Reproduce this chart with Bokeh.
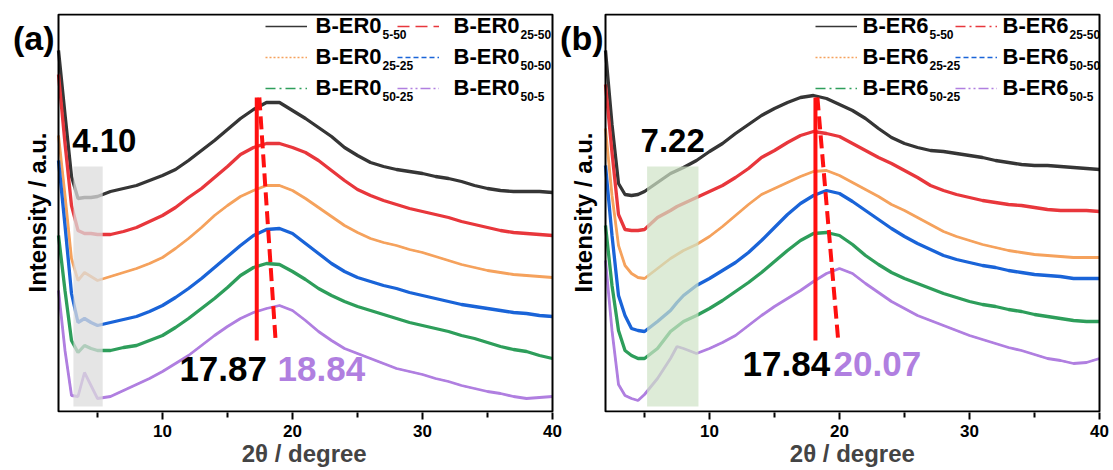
import math
from bokeh.plotting import figure
from bokeh.layouts import row
from bokeh.models import Range1d, FixedTicker, BoxAnnotation, Label, Legend, LegendItem
from bokeh.embed import file_html
from bokeh.resources import INLINE

# ---------------- data (2theta in degree, stacked intensity in a.u.) ----------------
theta_a = [2, 2.5, 3, 3.5, 4, 4.5, 5, 6, 7, 8, 9, 10, 11, 12, 13, 14, 15, 16, 17, 18, 19, 20,
           21, 22, 23, 24, 25, 26, 27, 28, 29, 30, 31, 32, 33, 34, 35, 36, 37, 38, 39, 40]
er0_5_50 = [361, 297, 235, 213, 214, 214, 215, 220, 223, 226, 231, 236, 242, 251, 261, 271, 282, 293, 302, 309, 309,
            301, 293, 284, 275, 264, 256, 249, 245, 242, 240, 238, 235, 233, 230, 226, 223, 221, 220, 220, 220, 219]
er0_25_50 = [337, 268, 206, 181, 178, 178, 177, 177, 180, 184, 190, 196, 204, 214, 223, 234, 245, 257, 264, 268, 268,
             264, 259, 251, 241, 231, 222, 216, 211, 207, 203, 200, 197, 194, 190, 187, 184, 181, 179, 178, 177, 176]
er0_25_25 = [276, 216, 153, 131, 139, 135, 131, 135, 139, 143, 148, 154, 163, 173, 184, 196, 206, 215, 221, 226, 226,
             221, 213, 204, 195, 186, 179, 173, 169, 166, 162, 159, 155, 151, 147, 144, 141, 139, 137, 136, 135, 134]
er0_50_50 = [251, 186, 118, 89, 93, 89, 86, 89, 92, 95, 100, 106, 114, 123, 133, 144, 155, 166, 176, 182, 183,
             178, 168, 158, 148, 140, 134, 130, 126, 123, 119, 116, 113, 110, 107, 105, 103, 101, 99, 98, 96, 95]
er0_50_25 = [176, 121, 71, 59, 66, 63, 61, 61, 64, 66, 71, 76, 84, 93, 103, 113, 124, 136, 144, 148, 147,
             140, 132, 123, 116, 110, 105, 101, 97, 93, 89, 86, 83, 80, 76, 73, 69, 65, 62, 60, 56, 53]
er0_50_5 = [121, 61, 16, 15, 39, 26, 13, 15, 21, 27, 33, 40, 48, 56, 66, 76, 85, 93, 99, 103, 106,
            101, 91, 80, 71, 63, 58, 53, 48, 43, 40, 37, 33, 30, 26, 23, 20, 18, 15, 13, 14, 15]

theta_b = [2, 2.5, 3, 3.5, 4, 4.5, 5, 6, 7, 7.5, 8, 9, 10, 11, 12, 13, 14, 15, 16, 17, 18, 19, 20,
           21, 22, 23, 24, 25, 26, 27, 28, 29, 30, 31, 32, 33, 34, 35, 36, 37, 38, 39, 40]
er6_5_50 = [361, 287, 228, 217, 216, 217, 220, 229, 238, 241, 244, 251, 260, 268, 278, 287, 296, 303, 309, 314, 316, 313, 307,
            301, 293, 283, 274, 268, 264, 261, 260, 258, 256, 254, 251, 249, 247, 246, 246, 245, 244, 243, 242]
er6_25_50 = [327, 259, 197, 182, 181, 181, 182, 194, 201, 205, 208, 214, 220, 226, 234, 243, 254, 261, 269, 276, 280, 278, 275,
             268, 261, 254, 248, 241, 234, 226, 221, 217, 214, 211, 209, 207, 206, 204, 202, 201, 201, 201, 200]
er6_25_25 = [283, 216, 166, 146, 138, 134, 133, 143, 153, 157, 161, 167, 175, 185, 196, 207, 217, 223, 229, 235, 240, 241, 236,
             229, 222, 215, 207, 201, 194, 187, 180, 175, 171, 167, 164, 161, 159, 157, 156, 155, 154, 154, 154]
er6_50_50 = [246, 176, 116, 96, 83, 81, 80, 90, 101, 109, 116, 126, 133, 141, 149, 159, 171, 184, 197, 208, 216, 221, 218,
             210, 201, 192, 183, 175, 168, 162, 156, 152, 149, 146, 144, 141, 139, 137, 136, 135, 133, 133, 133]
er6_50_25 = [186, 126, 81, 61, 56, 53, 53, 63, 80, 85, 90, 96, 103, 111, 120, 129, 139, 150, 161, 171, 178, 179, 176,
             167, 156, 147, 139, 133, 128, 123, 118, 114, 110, 107, 105, 102, 100, 97, 95, 93, 91, 90, 90]
er6_50_5 = [151, 81, 27, 16, 13, 11, 17, 33, 53, 65, 63, 58, 63, 69, 76, 86, 96, 105, 113, 121, 130, 138, 143,
            138, 128, 119, 110, 103, 96, 91, 86, 81, 76, 72, 68, 64, 61, 57, 53, 51, 48, 49, 53]

# legend names: base name and subscript
names_a = ["B-ER0"] * 6
names_b = ["B-ER6"] * 6
subs = ["5-50", "25-50", "25-25", "50-50", "50-25", "50-5"]

# shaded low-angle region and its label
region_a = [3.15, 5.4]
region_b = [5.2, 9.15]
region_label_a = "4.10"
region_label_b = "7.22"
region_label_x_a = 3.05
region_label_x_b = 4.7
# peak guide lines: solid (x), dashed (x top, x bottom)
guide_a = [17.25, 17.45, 18.7]
guide_b = [18.15, 18.3, 19.9]
guide_y = [314, 71]
peak_labels_a = ["17.87", "18.84"]
peak_labels_b = ["17.84", "20.07"]

colors = ["#363636", "#e8373c", "#f5a25d", "#1a64d8", "#2e9e5b", "#b07fe0"]
FONT = "Liberation Sans"
PX = 13.0  # pixels per degree
NBSP = "\u00a0"


def panel(theta, series, names, red_dash, region, region_color, region_alpha, region_label,
          region_label_x, guide, peak_labels, peak_pos, panel_label,
          width, border_right, left_px, frame_left, leg_x, text_x, fill_none, xlabel_pad):
    # frame spans the whole left margin so that side texts are inside the drawing area
    x0 = 2 - left_px / PX
    x1 = 40 + 2 / PX
    p = figure(width=width, height=470, output_backend="svg", toolbar_location=None,
               x_range=Range1d(x0, x1), y_range=Range1d(-1, 398),
               min_border_left=0, min_border_right=border_right,
               min_border_top=13, min_border_bottom=58)
    p.title.visible = False
    if fill_none:
        p.border_fill_color = None
    p.xgrid.visible = False
    p.ygrid.visible = False
    p.outline_line_color = None
    p.yaxis.visible = False

    xa = p.xaxis[0]
    xa.ticker = FixedTicker(ticks=[10, 20, 30, 40], minor_ticks=[5, 15, 25, 35])
    xa.axis_line_color = None
    xa.major_tick_line_width = 2
    xa.minor_tick_line_width = 2
    xa.major_tick_in = 0
    xa.major_tick_out = 7
    xa.minor_tick_in = 0
    xa.minor_tick_out = 5
    xa.major_label_text_font = FONT
    xa.major_label_text_font_style = "bold"
    xa.major_label_text_font_size = "17px"
    xa.major_label_text_color = "black"
    xa.major_label_standoff = 5
    # centred under the data area (the drawing area also covers the left margin)
    xa.axis_label = NBSP * xlabel_pad + "2\u03b8 / degree"
    xa.axis_label_text_font = FONT
    xa.axis_label_text_font_style = "bold"
    xa.axis_label_text_font_size = "24px"
    xa.axis_label_standoff = 0

    dashes = ["solid", red_dash, "2 2", "5 3", "10 4 2 4", "10 3 2 3 2 3"]
    widths = [3.3, 3.3, 2.8, 3.3, 3.3, 2.8]
    items = []
    for ys, col, dash, lw in zip(series, colors, dashes, widths):
        p.line(theta, ys, line_color=col, line_width=lw)
        r = p.line(theta, ys, line_color=col, line_width=1.6, line_dash=dash)
        items.append(LegendItem(label=" ", renderers=[r]))

    box = BoxAnnotation(left=region[0], right=region[1], bottom=5, top=245,
                        fill_color=region_color, fill_alpha=region_alpha, line_color=None)
    p.add_layout(box)
    p.add_layout(Label(x=region_label_x, y=271, text=region_label, text_font=FONT,
                       text_font_style="bold", text_font_size="33px", text_color="black",
                       text_baseline="middle"))

    p.segment(x0=[guide[0]], y0=[guide_y[0]], x1=[guide[0]], y1=[guide_y[1]],
              line_color="#ff1010", line_width=4)
    p.segment(x0=[guide[1]], y0=[guide_y[0]], x1=[guide[2]], y1=[guide_y[1]],
              line_color="#ff1010", line_width=4, line_dash="13 6")

    p.add_layout(Label(x=peak_pos[0], y=peak_pos[2], text=peak_labels[0], text_font=FONT,
                       text_font_style="bold", text_font_size="35px", text_color="black",
                       text_baseline="middle"))
    p.add_layout(Label(x=peak_pos[1], y=peak_pos[2], text=peak_labels[1], text_font=FONT,
                       text_font_style="bold", text_font_size="35px", text_color="#b07fe0",
                       text_baseline="middle"))

    # plot frame (data area 2..40 degree)
    p.add_layout(BoxAnnotation(left=2, right=40, bottom=0, top=397, fill_color=None,
                               line_color="black", line_width=2, line_alpha=1))

    # panel letter and y-axis title, left of the data area
    p.add_layout(Label(x=2 + panel_label[1] / PX, y=374, text=panel_label[0], text_font=FONT,
                       text_font_style="bold", text_font_size="34px", text_color="black",
                       text_align="right", text_baseline="middle"))
    p.add_layout(Label(x=2 + panel_label[2] / PX, y=199, text="Intensity / a.u.", text_font=FONT,
                       text_font_style="bold", text_font_size="24px", text_color="black",
                       text_align="center", text_baseline="middle", angle=math.pi / 2))

    # legend: line samples through Legend, names (with subscripts) as text labels
    for k, cols in enumerate([[0, 2, 4], [1, 3, 5]]):
        leg = Legend(items=[items[i] for i in cols], location=(leg_x[k], 312),
                     orientation="vertical", padding=0, margin=0, spacing=7,
                     glyph_width=42, glyph_height=24, label_height=24, label_width=1,
                     label_standoff=0, label_text_font_size="1px",
                     border_line_color=None, background_fill_alpha=0)
        p.add_layout(leg)
        for j, i in enumerate(cols):
            cy = 25 + 31 * j
            tx = 2 + (text_x[k] - frame_left) / PX
            sx = 2 + (text_x[k] + 67 - frame_left) / PX
            p.add_layout(Label(x=tx, y=411 - cy, text=names[i], text_font=FONT,
                               text_font_style="bold", text_font_size="22px",
                               text_color="black", text_baseline="middle"))
            p.add_layout(Label(x=sx, y=411 - cy - 9, text=subs[i], text_font=FONT,
                               text_font_style="bold", text_font_size="12px",
                               text_color="black", text_baseline="middle"))
    return p


# panel letter: (text, right edge offset px from data-area left, y-title centre offset px)
pa = panel(theta_a, [er0_5_50, er0_25_50, er0_25_25, er0_50_50, er0_50_25, er0_50_5], names_a,
           "12 6", region_a, "#dcdcdc", 0.75, region_label_a, region_label_x_a, guide_a,
           peak_labels_a, [11.3, 18.85, 42.5], ("(a)", -4, -21),
           562, 8, 58, 58, [265, 397], [315, 453], False, 8)
pa.margin = (0, -6, 0, 0)
pb = panel(theta_b, [er6_5_50, er6_25_50, er6_25_25, er6_50_50, er6_50_25, er6_50_5], names_b,
           "10 4 2 4", region_b, "#cfe3c6", 0.7, region_label_b, region_label_x_b, guide_b,
           peak_labels_b, [12.54, 19.54, 48], ("(b)", -2, -22),
           557, 12, 49, 605, [259, 399], [862, 1002], True, 7)

layout = row(pa, pb)
open("out.html", "w", encoding="utf-8").write(file_html(layout, INLINE))
